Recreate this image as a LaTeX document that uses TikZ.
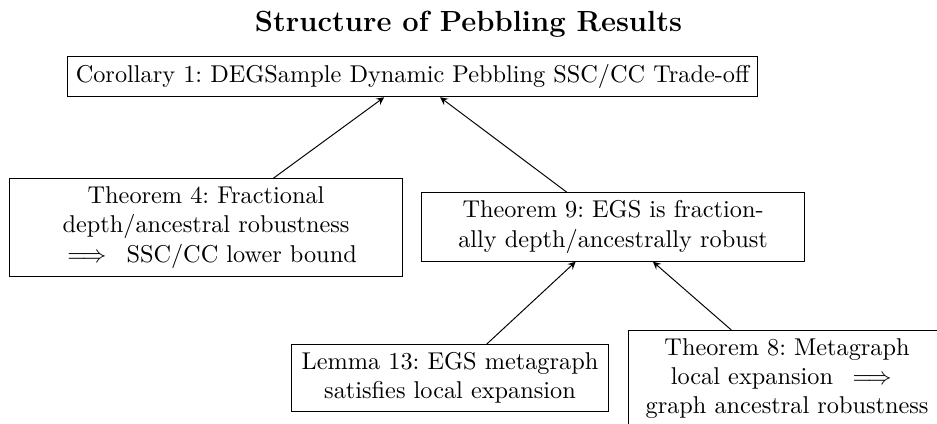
\documentclass[tikz,border=0pt]{standalone}
\usepackage{amsmath}
\begin{document}
\frenchspacing
\begin{tikzpicture}[x=1pt,y=1pt,
  box/.style={draw, line width=0.4pt, inner sep=3.33pt, align=center, font=\frenchspacing},
  link/.style={-stealth, line width=0.4pt}]
\useasboundingbox (0,0) rectangle (385.6,-174.1);
\node[anchor=base, font=\large\bfseries] (title) at (192.8,-13) {Structure of Pebbling Results};
\node[box] (cor) at (169.75,-31.5) {Corollary 1: DEGSample Dynamic Pebbling SSC/CC Trade-off};
\node[box, text width=155pt] (t4) at (84.8,-93.6) {Theorem 4: Fractional\\depth/ancestral robustness\\$\implies$ SSC/CC lower bound};
\node[box, text width=151pt] (t9) at (252.3,-93.4) {Theorem 9: EGS is fraction-\\ally depth/ancestrally robust};
\node[box, text width=123.8pt] (l13) at (185.2,-155.6) {Lemma 13: EGS metagraph\\satisfies local expansion};
\node[box, text width=123.8pt] (t8) at (323.9,-155.8) {Theorem 8: Metagraph\\local expansion $\implies$\\graph ancestral robustness};
\draw[link] (t4) -- (cor);
\draw[link] (t9) -- (cor);
\draw[link] (l13) -- (t9);
\draw[link] (t8) -- (t9);
\end{tikzpicture}
\end{document}
